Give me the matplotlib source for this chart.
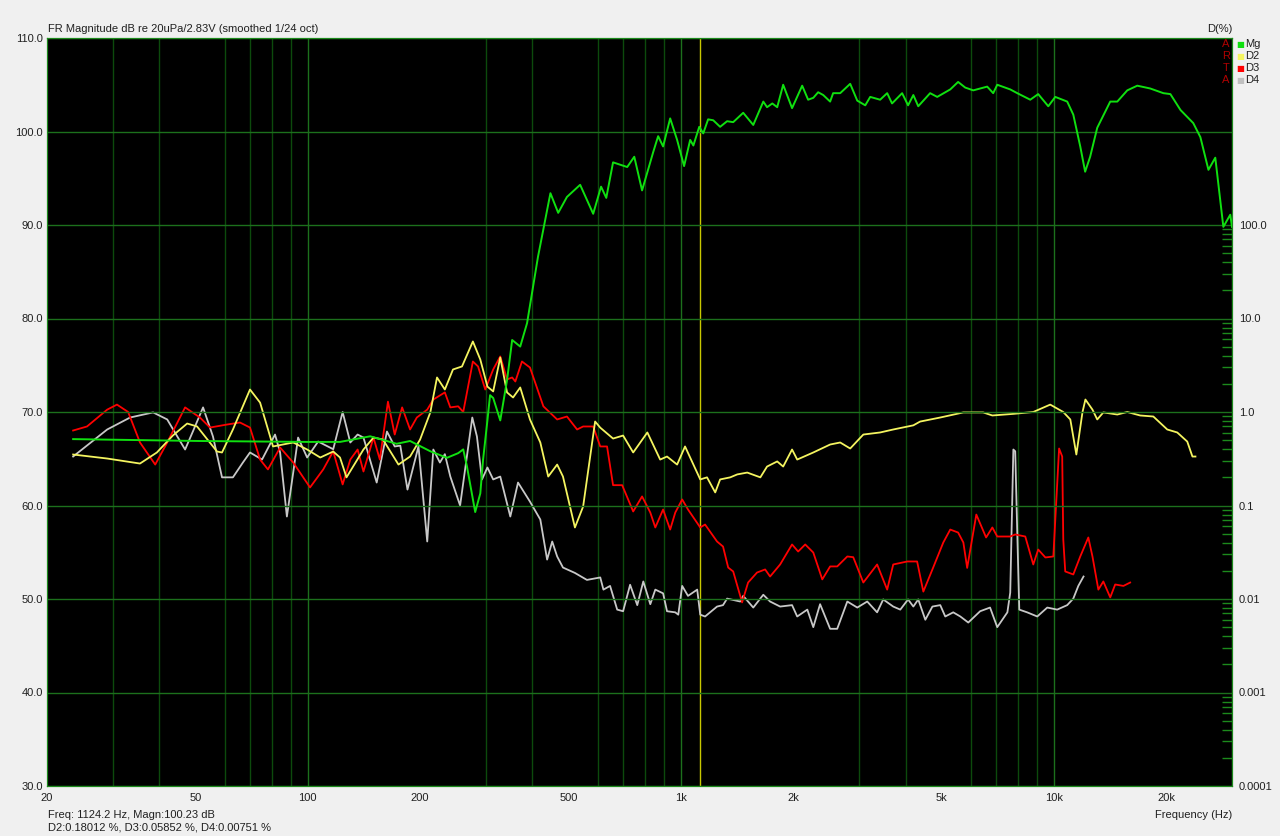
import matplotlib
matplotlib.use('Agg')
from matplotlib import pyplot as plt
from matplotlib.ticker import LogLocator, FixedLocator, NullFormatter

plt.rcParams['font.family'] = ['Liberation Sans', 'DejaVu Sans']

# magnitude response (dB)
mg_freq = [23.5, 51, 100, 122, 147, 173, 188, 213, 236, 253,
           261, 267, 281, 290, 295, 303, 308, 314, 328, 342,
           353, 371, 387, 414, 447, 469, 495, 537, 582, 611,
           631, 658, 718, 750, 787, 843, 869, 896, 936, 977,
           1020, 1059, 1080, 1120, 1148, 1183, 1221, 1274, 1330, 1381,
           1469, 1563, 1663, 1702, 1758, 1812, 1880, 1986, 2114, 2193,
           2264, 2333, 2407, 2512, 2559, 2673, 2843, 2970, 3120, 3217,
           3420, 3572, 3681, 3917, 4064, 4198, 4327, 4656, 4864, 5272,
           5534, 5781, 6076, 6622, 6872, 7046, 7634, 7972, 8638, 9072,
           9654, 10080, 10850, 11266, 11760, 12120, 12500, 13060, 14150, 14780,
           15720, 16720, 18110, 19640, 20510, 21830, 23620, 24680, 25940, 27060,
           28440, 29680, 30000]
mg_db = [67.1, 66.9, 66.8, 66.8, 67.4, 66.6, 66.9, 65.8, 65.1, 65.6,
         66.0, 64.2, 59.3, 61.3, 64.9, 69.1, 71.8, 71.5, 69.1, 73.4,
         77.7, 77.0, 79.5, 86.6, 93.4, 91.3, 93.0, 94.3, 91.2, 94.1,
         92.9, 96.7, 96.2, 97.3, 93.7, 97.8, 99.5, 98.4, 101.4, 99.1,
         96.3, 99.1, 98.5, 100.5, 99.8, 101.3, 101.2, 100.5, 101.1, 101.0,
         102.0, 100.7, 103.2, 102.6, 103.0, 102.6, 105.0, 102.5, 104.9, 103.4,
         103.6, 104.2, 103.9, 103.2, 104.1, 104.1, 105.1, 103.3, 102.8, 103.7,
         103.4, 104.1, 103.0, 104.1, 102.8, 103.9, 102.7, 104.1, 103.7, 104.5,
         105.3, 104.7, 104.4, 104.8, 104.1, 105.0, 104.5, 104.1, 103.4, 104.0,
         102.7, 103.7, 103.2, 101.8, 98.4, 95.7, 97.3, 100.4, 103.2, 103.2,
         104.4, 104.9, 104.6, 104.1, 104.0, 102.3, 100.9, 99.4, 95.9, 97.2,
         89.8, 91.1, 89.8]

# 2nd harmonic (%)
d2_freq = [23.5, 29.0, 35.5, 39.4, 43.5, 47.5, 50.5, 57.1, 58.9, 63.0,
           70.0, 74.5, 80.7, 91.4, 99.6, 108, 117, 122, 127, 141,
           150, 159, 175, 188, 200, 213, 222, 233, 245, 259,
           277, 290, 303, 314, 328, 342, 355, 371, 394, 420,
           441, 466, 483, 520, 547, 589, 608, 658, 700, 745,
           813, 880, 918, 977, 1026, 1127, 1175, 1236, 1274, 1356,
           1416, 1506, 1633, 1702, 1812, 1880, 1986, 2050, 2264, 2512,
           2673, 2843, 3083, 3420, 3708, 4198, 4376, 4956, 5716, 6457,
           6836, 7782, 8800, 9770, 10590, 11060, 11480, 11920, 12140, 12680,
           13060, 13560, 14780, 15720, 17020, 18460, 20120, 21400, 22760, 23500,
           23940]
d2_pct = [0.351, 0.318, 0.281, 0.369, 0.561, 0.753, 0.70, 0.378, 0.369, 0.65,
          1.74, 1.26, 0.428, 0.472, 0.397, 0.326, 0.378, 0.326, 0.20, 0.397,
          0.533, 0.508, 0.274, 0.334, 0.508, 0.99, 2.34, 1.74, 2.85, 3.07,
          5.68, 3.64, 1.87, 1.66, 3.83, 1.62, 1.43, 1.83, 0.832, 0.472,
          0.204, 0.274, 0.204, 0.0582, 0.0975, 0.791, 0.68, 0.52, 0.56, 0.369,
          0.604, 0.310, 0.334, 0.274, 0.428, 0.190, 0.20, 0.138, 0.190, 0.20,
          0.215, 0.225, 0.20, 0.261, 0.296, 0.261, 0.397, 0.310, 0.369, 0.449,
          0.472, 0.407, 0.574, 0.604, 0.65, 0.72, 0.79, 0.873, 0.99, 0.99,
          0.918, 0.955, 1.0, 1.20, 1.0, 0.832, 0.351, 0.99, 1.36, 1.06,
          0.832, 0.99, 0.94, 1.0, 0.918, 0.895, 0.65, 0.604, 0.483, 0.334,
          0.334]

# 3rd harmonic (%)
d3_freq = [23.5, 25.6, 29.0, 30.8, 33.0, 35.5, 39.0, 42.0, 46.9, 51.4,
           54.7, 60.8, 65.8, 70.0, 74.5, 78.2, 84.3, 91.4, 101.4, 110,
           117, 124, 130, 136, 141, 150, 156, 164, 171, 179,
           188, 196, 209, 217, 233, 241, 253, 261, 277, 286,
           299, 314, 328, 342, 353, 360, 375, 394, 428, 466,
           495, 527, 547, 582, 608, 634, 658, 696, 745, 787,
           828, 854, 896, 936, 966, 1008, 1045, 1127, 1161, 1250,
           1297, 1339, 1381, 1459, 1514, 1600, 1682, 1734, 1845, 1986,
           2062, 2154, 2264, 2393, 2512, 2624, 2793, 2897, 3083, 3357,
           3572, 3708, 4046, 4297, 4465, 4722, 5050, 5272, 5534, 5716,
           5852, 6192, 6577, 6836, 7046, 7634, 7872, 8376, 8800, 9072,
           9484, 9960, 10320, 10520, 10590, 10720, 11266, 11760, 12360, 12680,
           13150, 13560, 14150, 14590, 15350, 16000]
d3_pct = [0.634, 0.70, 1.06, 1.20, 1.0, 0.472, 0.274, 0.472, 1.12, 0.873,
          0.682, 0.735, 0.772, 0.682, 0.310, 0.243, 0.417, 0.288, 0.156, 0.243,
          0.38, 0.168, 0.31, 0.397, 0.231, 0.533, 0.31, 1.29, 0.574, 1.12,
          0.65, 0.873, 1.06, 1.36, 1.62, 1.12, 1.15, 1.0, 3.47, 3.07,
          1.74, 2.85, 3.93, 2.23, 2.34, 2.12, 3.47, 2.99, 1.15, 0.832,
          0.895, 0.65, 0.70, 0.70, 0.428, 0.428, 0.165, 0.165, 0.0863, 0.125,
          0.0841, 0.0582, 0.0906, 0.0553, 0.0841, 0.116, 0.0906, 0.0582, 0.0626, 0.0412,
          0.0364, 0.0217, 0.0197, 0.0092, 0.0150, 0.0192, 0.0207, 0.0174, 0.0234, 0.0383,
          0.0322, 0.0383, 0.0314, 0.0162, 0.0223, 0.0223, 0.0285, 0.0280, 0.0150, 0.0234,
          0.0126, 0.0234, 0.0252, 0.0252, 0.0120, 0.0207, 0.0402, 0.0553, 0.0514, 0.0402,
          0.0215, 0.080, 0.0455, 0.0582, 0.0466, 0.0466, 0.049, 0.0466, 0.0234, 0.0338,
          0.0278, 0.0285, 0.407, 0.334, 0.0433, 0.0197, 0.0183, 0.0285, 0.0455, 0.0285,
          0.0126, 0.0154, 0.0104, 0.0143, 0.0138, 0.0150]

# 4th harmonic (%)
d4_freq = [23.5, 29.0, 33.4, 38.5, 42.0, 44.7, 46.9, 49.2, 52.4, 55.7,
           58.9, 63.0, 67.0, 70.0, 75.4, 81.7, 84.3, 87.9, 91.4, 94.2,
           99.6, 106.6, 117, 124, 130, 136, 141, 153, 163, 171,
           177, 185, 198, 209, 217, 226, 233, 241, 256, 276,
           284, 293, 303, 314, 328, 349, 366, 394, 420, 438,
           452, 466, 483, 520, 560, 608, 620, 646, 675, 700,
           731, 764, 793, 828, 854, 896, 918, 966, 984, 1008,
           1045, 1106, 1127, 1161, 1250, 1297, 1330, 1442, 1469, 1563,
           1663, 1734, 1845, 1986, 2050, 2182, 2264, 2361, 2512, 2624,
           2793, 2970, 3158, 3357, 3486, 3708, 3873, 4064, 4198, 4327,
           4520, 4722, 4956, 5112, 5370, 5610, 5892, 6340, 6740, 7046,
           7500, 7634, 7782, 7872, 7972, 8072, 8474, 9020, 9594, 10200,
           10850, 11266, 11620, 12000]
d4_pct = [0.334, 0.65, 0.873, 0.99, 0.832, 0.547, 0.397, 0.618, 1.12, 0.547,
          0.20, 0.20, 0.288, 0.369, 0.31, 0.574, 0.369, 0.0762, 0.225, 0.533,
          0.326, 0.483, 0.40, 1.0, 0.472, 0.574, 0.533, 0.176, 0.618, 0.428,
          0.437, 0.148, 0.428, 0.0412, 0.397, 0.288, 0.354, 0.204, 0.10, 0.873,
          0.547, 0.19, 0.255, 0.19, 0.204, 0.0762, 0.176, 0.110, 0.0708, 0.0264,
          0.0412, 0.0285, 0.0217, 0.019, 0.016, 0.0170, 0.0126, 0.0138, 0.0077, 0.0074,
          0.0142, 0.0086, 0.0154, 0.0088, 0.0126, 0.0115, 0.0074, 0.0072, 0.0068, 0.0138,
          0.0108, 0.0126, 0.0068, 0.0065, 0.0083, 0.0086, 0.0101, 0.0094, 0.0108, 0.0081,
          0.0111, 0.0094, 0.0083, 0.0086, 0.0065, 0.0077, 0.0050, 0.0088, 0.0048, 0.0048,
          0.0094, 0.0081, 0.0094, 0.0072, 0.0099, 0.0083, 0.0077, 0.0099, 0.0083, 0.0099,
          0.0060, 0.0083, 0.0086, 0.0065, 0.0072, 0.0065, 0.0056, 0.0074, 0.0081, 0.0050,
          0.0072, 0.0117, 0.397, 0.38, 0.0514, 0.0077, 0.0072, 0.0065, 0.0081, 0.0077,
          0.0086, 0.0101, 0.0138, 0.0174]

x_ticks = [20, 50, 100, 200, 500, 1000, 2000, 5000, 10000, 20000]
x_labels = ['20', '50', '100', '200', '500', '1k', '2k', '5k', '10k', '20k']
db_ticks = [30, 40, 50, 60, 70, 80, 90, 100, 110]
pct_ticks = [0.0001, 0.001, 0.01, 0.1, 1, 10, 100]
pct_labels = ['0.0001', '0.001', '0.01', '0.1', '1.0', '10.0', '100.0']
cursor_freq = 1124.2

bg = '#f0f0f0'
grid_minor = '#0c4a0c'
grid_major = '#1c701c'
edge = '#1c8a1c'
txt = '#202020'
fs = 8.0

fig = plt.figure(figsize=(12.8, 8.36), dpi=100, facecolor=bg)

# distortion axis (log %, right side) sits underneath and carries the black background
ax2 = fig.add_axes([47 / 1280, 50 / 836, 1185 / 1280, 748 / 836])
ax2.set_facecolor('black')
ax2.set_xscale('log')
ax2.set_xlim(20, 30000)
ax2.set_yscale('log')
ax2.set_ylim(1e-4, 1e4)
ax2.yaxis.tick_right()
ax2.yaxis.set_major_locator(FixedLocator(pct_ticks))
ax2.set_yticklabels(pct_labels)
minor_pct = [m * 10.0 ** e for e in range(-4, 2) for m in range(2, 10)]
ax2.yaxis.set_minor_locator(FixedLocator(minor_pct))
ax2.yaxis.set_minor_formatter(NullFormatter())
ax2.tick_params(axis='y', which='major', length=0, labelsize=fs, colors=txt, pad=5)
ax2.tick_params(axis='y', which='minor', direction='in', length=7, color=edge, width=1)
ax2.xaxis.set_major_locator(FixedLocator(x_ticks))
ax2.set_xticklabels(x_labels)
ax2.xaxis.set_minor_locator(LogLocator(base=10, subs=range(1, 10)))
ax2.xaxis.set_minor_formatter(NullFormatter())
ax2.tick_params(axis='x', which='both', length=0, labelsize=fs, colors=txt, pad=5)
ax2.grid(True, axis='x', which='minor', color=grid_minor, lw=1, zorder=0)
for dec in [100, 1000, 10000]:
    ax2.axvline(dec, color=grid_major, lw=1, zorder=1)
for s in ax2.spines.values():
    s.set_color(edge)

# magnitude axis (dB, left side) on top
ax = fig.add_axes([47 / 1280, 50 / 836, 1185 / 1280, 748 / 836], sharex=ax2)
ax.patch.set_visible(False)
ax.set_ylim(30, 110)
ax.set_yticks(db_ticks)
ax.set_yticklabels([f'{v:.1f}' for v in db_ticks])
ax.tick_params(axis='y', length=0, labelsize=fs, colors=txt, pad=3)
ax.tick_params(axis='x', which='both', length=0, labelbottom=False)
ax.grid(True, axis='y', which='major', color=grid_major, lw=1, zorder=0)
for s in ax.spines.values():
    s.set_color(edge)

ax2.axvline(cursor_freq, color='#c8c800', lw=1, zorder=3)
ax2.plot(d4_freq, d4_pct, color='#c8c8c8', lw=1.3, zorder=4)
ax2.plot(d3_freq, d3_pct, color='#ff0000', lw=1.3, zorder=5)
ax2.plot(d2_freq, d2_pct, color='#f4f460', lw=1.3, zorder=6)
ax.plot(mg_freq, mg_db, color='#10e010', lw=1.4, zorder=7)

fig.text(48 / 1280, 1 - 29 / 836, 'FR Magnitude dB re 20uPa/2.83V (smoothed 1/24 oct)',
         fontsize=fs, va='center', ha='left', color=txt)
fig.text(1232 / 1280, 1 - 29 / 836, 'D(%)', fontsize=fs, va='center', ha='right', color=txt)
fig.text(48 / 1280, 1 - 815 / 836, 'Freq: 1124.2 Hz, Magn:100.23 dB',
         fontsize=fs, va='center', ha='left', color=txt)
fig.text(48 / 1280, 1 - 828 / 836, 'D2:0.18012 %, D3:0.05852 %, D4:0.00751 %',
         fontsize=fs, va='center', ha='left', color=txt)
fig.text(1232 / 1280, 1 - 815 / 836, 'Frequency (Hz)', fontsize=fs, va='center', ha='right', color=txt)

legend_names = ['Mg', 'D2', 'D3', 'D4']
legend_colors = ['#10e010', '#f4f460', '#ff0000', '#c0c0c0']
for i, (name, col, ch) in enumerate(zip(legend_names, legend_colors, 'ARTA')):
    yy = 1 - (44 + 12 * i) / 836
    fig.text(1226 / 1280, yy, ch, fontsize=fs, color='#b00000', ha='center', va='center', zorder=20)
    fig.text(1240 / 1280, yy, '■', fontsize=6, color=col, ha='center', va='center',
             family=['DejaVu Sans'], zorder=20)
    fig.text(1245 / 1280, yy, name, fontsize=fs, color=txt, ha='left', va='center', zorder=20)

plt.savefig('out.png', dpi=100, facecolor=bg)
